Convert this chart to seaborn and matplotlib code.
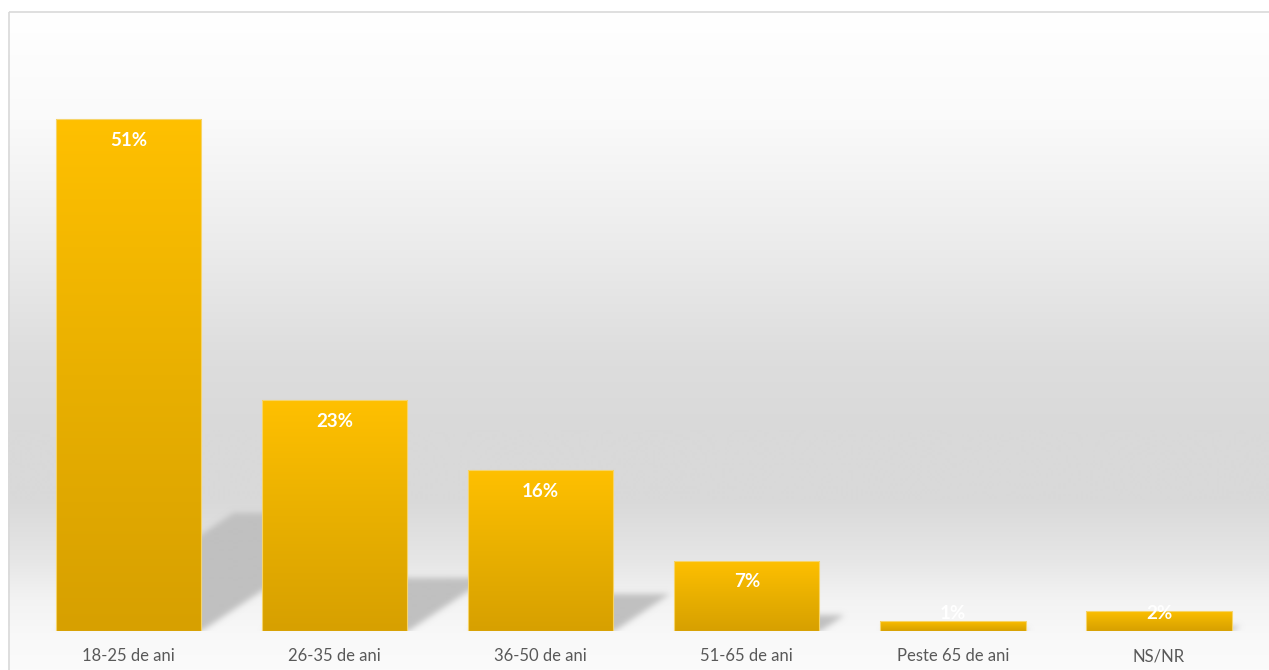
import numpy as np
import pandas as pd
import seaborn as sns
import matplotlib.pyplot as plt
from matplotlib.colors import LinearSegmentedColormap, to_rgb
from matplotlib.path import Path
from matplotlib.patches import Rectangle

categories = ["18-25 de ani", "26-35 de ani", "36-50 de ani", "51-65 de ani",
              "Peste 65 de ani", "NS/NR"]
shares = [51, 23, 16, 7, 1, 2]
value_labels = ["51%", "23%", "16%", "7%", "1%", "2%"]

df = pd.DataFrame({"grupa": categories, "procent": shares})

W, H = 1269, 670
sns.set_theme(style="white")
plt.rcParams["font.family"] = ["Lato", "DejaVu Sans"]

fig = plt.figure(figsize=(W / 100, H / 100), dpi=100)
fig.patch.set_facecolor("white")

# chart-area backdrop: soft vertical gray gradient inside a thin frame
bg = fig.add_axes([0, 0, 1, 1], zorder=0)
bg.set_xlim(0, W)
bg.set_ylim(H, 0)
bg.axis("off")
stops_y = [11, 120, 250, 350, 430, 500, 560, 600, 640, 670]
stops_v = [255, 250, 235, 222, 217, 217, 230, 243, 249, 251]
yy = np.arange(11, H + 1)
shade = np.interp(yy, stops_y, stops_v) / 255
grad = np.repeat(shade[:, None], 2, axis=1)
bg.imshow(np.dstack([grad] * 3), extent=(8, W + 5, H, 11), aspect="auto",
          interpolation="bilinear")
bg.add_patch(Rectangle((8.5, 11.5), W + 20, H + 20, fill=False,
                       edgecolor="#d9d9d9", lw=1.2))
bg.set_xlim(0, W)
bg.set_ylim(H, 0)

# main bar axes
YMAX = 59
ax = fig.add_axes([25.5 / W, 39 / H, (1262 - 25.5) / W, YMAX * 10.04 / H], zorder=1)
ax.patch.set_alpha(0)
sns.barplot(data=df, x="grupa", y="procent", width=0.705, color="#FFC000",
            ax=ax, zorder=3, saturation=1)
ax.set_xlim(-0.5, len(categories) - 0.5)
ax.set_ylim(0, YMAX)

# per-bar vertical gradient fill
bar_cmap = LinearSegmentedColormap.from_list("gold", ["#D7A000", "#E9B000", "#FFC000"])
ramp = np.linspace(0, 1, 256)[:, None]
for p in ax.patches:
    x0, w, h = p.get_x(), p.get_width(), p.get_height()
    im = ax.imshow(ramp, cmap=bar_cmap, extent=(x0, x0 + w, 0, h), origin="lower",
                   aspect="auto", zorder=3, interpolation="bilinear")
    im.set_clip_path(p)
    p.set_facecolor("none")
    p.set_edgecolor("#F6D46A")
    p.set_linewidth(0.8)
    p.set_zorder(4)

ax.set_xlim(-0.5, len(categories) - 0.5)
ax.set_ylim(0, YMAX)

# perspective drop shadows cast up and to the right of each bar
o = ax.transData.transform((0, 0))
ppx = ax.transData.transform((1, 0))[0] - o[0]
ppy = ax.transData.transform((0, 1))[1] - o[1]
nx, ny = int(round(6 * ppx)), int(round(YMAX * ppy))
xs = -0.5 + (np.arange(nx) + 0.5) / ppx
ys = (np.arange(ny) + 0.5) / ppy
GX, GY = np.meshgrid(xs, ys)
pts = np.column_stack([GX.ravel(), GY.ravel()])
mask = np.zeros(GX.size)
skew = 0.345 * ppy / ppx
squash = 0.23
for p in ax.patches:
    x0, w, h = p.get_x(), p.get_width(), p.get_height()
    poly = Path([(x0, 0), (x0 + w, 0), (x0 + w + skew * h, squash * h),
                 (x0 + skew * h, squash * h), (x0, 0)])
    mask = np.maximum(mask, poly.contains_points(pts).astype(float))
mask = mask.reshape(GX.shape)
sig = 3.0
k = np.exp(-0.5 * (np.arange(-10, 11) / sig) ** 2)
k /= k.sum()
mask = np.apply_along_axis(lambda r: np.convolve(r, k, mode="same"), 1, mask)
mask = np.apply_along_axis(lambda c: np.convolve(c, k, mode="same"), 0, mask)
rgba = np.zeros(mask.shape + (4,))
rgba[..., :3] = to_rgb("#c0c0c0")
rgba[..., 3] = np.clip(mask, 0, 1)
ax.imshow(rgba, extent=(-0.5, len(categories) - 0.5, 0, YMAX), origin="lower",
          aspect="auto", zorder=1, interpolation="bilinear")
ax.set_xlim(-0.5, len(categories) - 0.5)
ax.set_ylim(0, YMAX)

# value labels inside the bar tops
for i, (v, lab) in enumerate(zip(shares, value_labels)):
    ax.text(i, max(v - 2.1, 1.7), lab, ha="center", va="center", color="white",
            fontsize=13.5, fontweight="bold", zorder=6)

ax.set_xlabel("")
ax.set_ylabel("")
ax.set_yticks([])
ax.tick_params(axis="x", length=0, pad=12.5, labelsize=12, labelcolor="#595959")
sns.despine(ax=ax, left=True, bottom=True)

fig.savefig("out.png", dpi=100)
